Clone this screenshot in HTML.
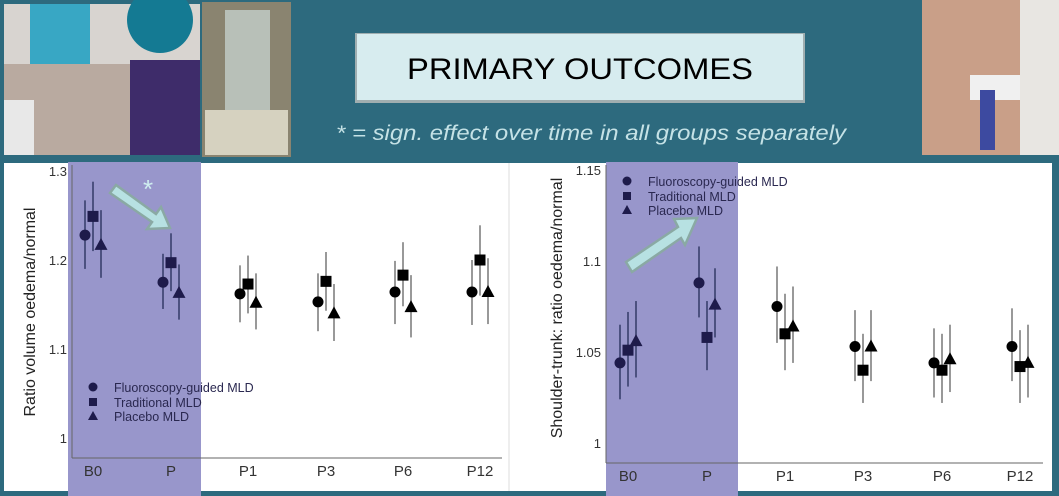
<!DOCTYPE html>
<html><head><meta charset="utf-8"><style>
html,body{margin:0;padding:0;background:#2d6a7e;}
body{width:1059px;height:496px;overflow:hidden;position:relative;font-family:"Liberation Sans",sans-serif;}
</style></head><body>
<svg id="s" width="1059" height="496" viewBox="0 0 1059 496" xmlns="http://www.w3.org/2000/svg" style="position:absolute;left:0;top:0">
<rect width="1059" height="496" fill="#2d6a7e"/>
<!-- photos -->
<rect x="4" y="4" width="196" height="151" fill="#b9aaa0"/>
<rect x="4" y="4" width="196" height="60" fill="#d8d4d0"/>
<rect x="30" y="4" width="60" height="60" fill="#38a7c4"/>
<rect x="130" y="60" width="70" height="95" fill="#3e2c6a"/>
<rect x="4" y="100" width="30" height="55" fill="#e8e8e8"/>
<circle cx="160" cy="20" r="33" fill="#147a93"/>
<rect x="202" y="2" width="89" height="155" fill="#8a8470"/>
<rect x="225" y="10" width="45" height="110" fill="#b8c0b8"/>
<rect x="205" y="110" width="83" height="45" fill="#d6d2c0"/>
<rect x="922" y="0" width="137" height="155" fill="#c99f88"/>
<rect x="1020" y="0" width="39" height="155" fill="#e8e6e2"/>
<rect x="970" y="75" width="50" height="25" fill="#f0f0f0"/>
<rect x="980" y="90" width="15" height="60" fill="#3d4aa0"/>
<!-- title -->
<rect x="355" y="33" width="450" height="70" fill="#a0aeb0"/>
<rect x="357" y="34" width="446" height="66" fill="#d7ecef"/>
<text x="580" y="79" font-size="30" text-anchor="middle" fill="#000" textLength="346" lengthAdjust="spacingAndGlyphs">PRIMARY OUTCOMES</text>
<text x="591" y="140" font-size="21" font-style="italic" text-anchor="middle" fill="#c5e2e6" textLength="510" lengthAdjust="spacingAndGlyphs">* = sign. effect over time in all groups separately</text>
<!-- panels -->
<rect x="4" y="163" width="1048" height="328" fill="#fff"/>
<line x1="509" y1="163" x2="509" y2="491" stroke="#ddd"/>
<rect x="68" y="162" width="133" height="334" fill="#9896cb"/>
<rect x="606" y="162" width="132" height="334" fill="#9896cb"/>
<g id="g"></g>
</svg>
<script>
var g=document.getElementById('g'),h='';
function T(x,y,t,o){h+='<text x="'+x+'" y="'+y+'" '+(o||'')+'>'+t+'</text>';}
function chart(ax,axEnd,xl,yfn,ticks,labs,xs,data,lab,legY,col){
 h+='<line x1="'+ax+'" y1="165" x2="'+ax+'" y2="'+xl+'" stroke="#666"/>';
 h+='<line x1="'+ax+'" y1="'+xl+'" x2="'+axEnd+'" y2="'+xl+'" stroke="#666"/>';
 ticks.forEach(function(t){var y=yfn(t);T(ax-5,y+5,String(t),'font-size="13" fill="#333" text-anchor="end"');});
 labs.forEach(function(l,i){T(xs[i],xl+18,l,'font-size="15" fill="#333" text-anchor="middle"');});
 data.forEach(function(d,i){
  [-8,0,8].forEach(function(o,k){
   var x=xs[i]+o,v=d[k],c=(xs[i]<col)?'#1e1b4b':'#000',y=yfn(v[0]);
   h+='<line x1="'+x+'" y1="'+yfn(v[1])+'" x2="'+x+'" y2="'+yfn(v[2])+'" stroke="'+(c=='#000'?'#777':'#333a66')+'" stroke-width="1.5"/>';
   if(k==0)h+='<circle cx="'+x+'" cy="'+y+'" r="5.5" fill="'+c+'"/>';
   if(k==1)h+='<rect x="'+(x-5.5)+'" y="'+(y-5.5)+'" width="11" height="11" fill="'+c+'"/>';
   if(k==2)h+='<polygon points="'+x+','+(y-7)+' '+(x-6.5)+','+(y+5)+' '+(x+6.5)+','+(y+5)+'" fill="'+c+'"/>';
  });
 });
 var lx=ax+21;
 h+='<circle cx="'+lx+'" cy="'+legY+'" r="4.5" fill="#1e1b4b"/>';
 h+='<rect x="'+(lx-4)+'" y="'+(legY+11)+'" width="8" height="8" fill="#1e1b4b"/>';
 h+='<polygon points="'+lx+','+(legY+24)+' '+(lx-5)+','+(legY+33)+' '+(lx+5)+','+(legY+33)+'" fill="#1e1b4b"/>';
 T(lx+21,legY+5,'Fluoroscopy-guided MLD','font-size="12.5" fill="#2a2850"');
 T(lx+21,legY+20,'Traditional MLD','font-size="12.5" fill="#2a2850"');
 T(lx+21,legY+34,'Placebo MLD','font-size="12.5" fill="#2a2850"');
}
chart(72,502,458,function(v){return 438-(v-1)*890;},[1.3,1.2,1.1,1],['B0','P','P1','P3','P6','P12'],[93,171,248,326,403,480],
[[[1.228,1.19,1.267],[1.249,1.21,1.288],[1.217,1.18,1.256]],
 [[1.175,1.145,1.207],[1.197,1.165,1.23],[1.163,1.133,1.195]],
 [[1.162,1.13,1.194],[1.173,1.14,1.205],[1.152,1.122,1.185]],
 [[1.153,1.12,1.185],[1.176,1.143,1.209],[1.14,1.109,1.173]],
 [[1.164,1.128,1.199],[1.183,1.148,1.22],[1.147,1.113,1.183]],
 [[1.164,1.127,1.2],[1.2,1.16,1.239],[1.164,1.128,1.202]]],'',387,201);
chart(606,1043,463,function(v){return 443-(v-1)*1820;},[1.15,1.1,1.05,1],['B0','P','P1','P3','P6','P12'],[628,707,785,863,942,1020],
[[[1.044,1.024,1.065],[1.051,1.031,1.072],[1.056,1.036,1.078]],
 [[1.088,1.069,1.108],[1.058,1.040,1.078],[1.076,1.058,1.096]],
 [[1.075,1.055,1.097],[1.060,1.040,1.082],[1.064,1.044,1.086]],
 [[1.053,1.034,1.073],[1.040,1.022,1.060],[1.053,1.034,1.073]],
 [[1.044,1.025,1.063],[1.040,1.022,1.060],[1.046,1.028,1.065]],
 [[1.053,1.034,1.074],[1.042,1.022,1.062],[1.044,1.025,1.065]]],'',181,738);
T(0,0,'Ratio volume oedema/normal','font-size="16" fill="#222" text-anchor="middle" transform="translate(35,312) rotate(-90)"');
T(0,0,'Shoulder-trunk: ratio oedema/normal','font-size="16" fill="#222" text-anchor="middle" transform="translate(562,308) rotate(-90)"');
// arrows
h+='<polygon points="110,193 116,185 156,214 161,207 170,228 147,229 152,222" fill="#b7e1e2" stroke="#8aa9a4" stroke-width="2.5"/>';
T(148,198,'*','font-size="26" fill="#cfeef0" text-anchor="middle"');
h+='<polygon points="626,262 632,272 681,238 685,245 697,218 674,219 678,227" fill="#b7e1e2" stroke="#8aa9a4" stroke-width="2.5"/>';
g.innerHTML=h;
</script>
</body></html>
